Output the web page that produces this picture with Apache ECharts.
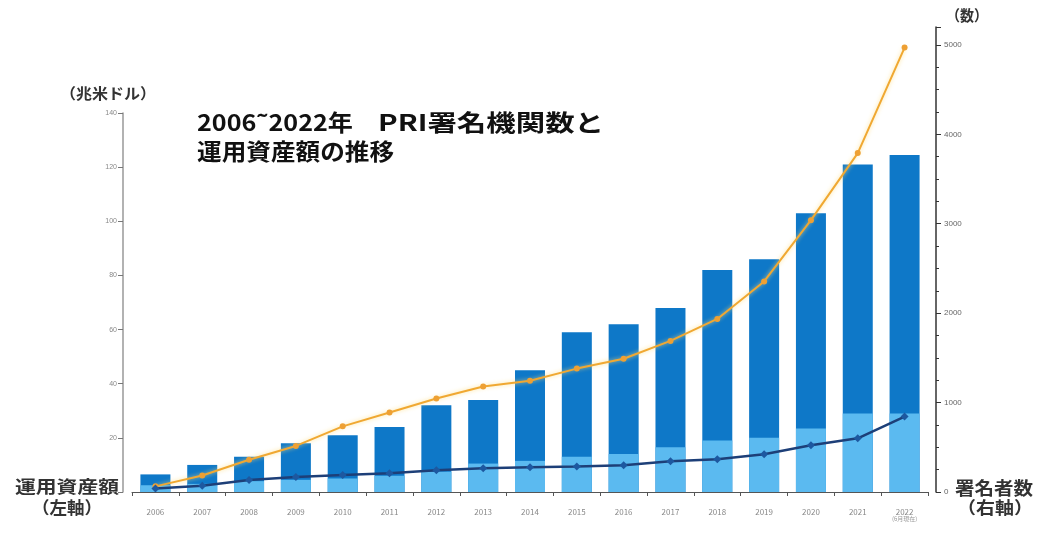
<!DOCTYPE html>
<html>
<head>
<meta charset="utf-8">
<script src="https://cdn.jsdelivr.net/npm/echarts@6/dist/echarts.min.js"></script>
<style>
html,body{margin:0;padding:0;background:#fff;}
#main{width:1041px;height:533px;}
</style>
</head>
<body>
<div id="main"></div>
<script>
const years = ['2006','2007','2008','2009','2010','2011','2012','2013','2014','2015','2016','2017','2018','2019','2020','2021','2022'];
const aumTotal = [6.5, 10, 13, 18, 21, 24, 32, 34, 45, 59, 62, 68, 82, 86, 103, 121, 124.5];
const aumAssetOwners = [2.5, 3, 4, 4.5, 5, 6, 7.5, 10.5, 11.5, 13, 14, 16.5, 19, 20, 23.5, 29, 29];
const signatoriesTotal = [63, 185, 360, 515, 734, 889, 1045, 1180, 1245, 1380, 1490, 1690, 1935, 2355, 3040, 3790, 4970];
const signatoriesAssetOwners = [40, 70, 133, 167, 190, 211, 244, 265, 278, 285, 300, 344, 367, 422, 522, 600, 844];
const leftTicks = [0, 20, 40, 60, 80, 100, 120, 140];
const rightTicks = [0, 1000, 2000, 3000, 4000, 5000];

const jp = '"Noto Sans CJK JP", "Noto Sans", sans-serif';
const measureCtx = document.createElement('canvas').getContext('2d');
function fitText(text, x, y, size, targetWidth, color) {
  const font = 'bold ' + size + 'px ' + jp;
  measureCtx.font = font;
  const w = measureCtx.measureText(text).width;
  return {type: 'text', x: x, y: y, scaleX: targetWidth / w, originX: 0, originY: 0, z: 10,
    style: {text: text, font: font, fill: color || '#333', verticalAlign: 'top', align: 'left'}};
}

const chart = echarts.init(document.getElementById('main'));
chart.setOption({
  backgroundColor: '#fff',
  animation: false,
  grid: [
    {left: 132, right: 113, top: 113, bottom: 41},
    {left: 132, right: 113, top: 27, bottom: 41}
  ],
  xAxis: [
    {type: 'category', gridIndex: 0, data: years,
     axisLine: {lineStyle: {color: '#555', width: 1}},
     axisTick: {show: true, length: 4, lineStyle: {color: '#555'}},
     axisLabel: {interval: 0, fontSize: 8, color: '#888', margin: 16, fontFamily: jp,
       formatter: function (v) { return v === '2022' ? v + '\n{s|(6月現在)}' : v; },
       rich: {s: {fontSize: 6, color: '#999'}}}},
    {type: 'category', gridIndex: 1, data: years, show: false}
  ],
  yAxis: [
    {type: 'value', gridIndex: 0, min: 0, max: 140, interval: 20, position: 'left', offset: 9,
     axisLine: {show: true, lineStyle: {color: '#999', width: 1.5}},
     axisTick: {show: true, length: 5, inside: false, lineStyle: {color: '#777'}},
     axisLabel: {fontSize: 7, color: '#888', margin: 6,
       formatter: function (v) { return leftTicks.indexOf(v) >= 0 ? String(v) : ''; }},
     splitLine: {show: false}},
    {type: 'value', gridIndex: 1, min: 0, max: 5200, interval: 1000, position: 'right', offset: 8,
     axisLine: {show: true, lineStyle: {color: '#333', width: 1.5}},
     axisTick: {show: true, length: 5, inside: false, lineStyle: {color: '#333'}},
     minorTick: {show: true, splitNumber: 4, length: 3, lineStyle: {color: '#333'}},
     axisLabel: {fontSize: 8, color: '#666', margin: 8, showMaxLabel: false,
       formatter: function (v) { return rightTicks.indexOf(v) >= 0 ? String(v) : ''; }},
     splitLine: {show: false}}
  ],
  series: [
    {type: 'bar', xAxisIndex: 0, yAxisIndex: 0, data: aumTotal, barWidth: 30,
     itemStyle: {color: '#0e78c8'}, z: 2},
    {type: 'bar', xAxisIndex: 0, yAxisIndex: 0, data: aumAssetOwners, barWidth: 30, barGap: '-100%',
     itemStyle: {color: '#5bbaf0'}, z: 3},
    {type: 'line', xAxisIndex: 1, yAxisIndex: 1, data: signatoriesTotal,
     symbol: 'circle', symbolSize: 6,
     lineStyle: {color: '#f0a832', width: 2, shadowColor: 'rgba(255,220,120,0.8)', shadowBlur: 4},
     itemStyle: {color: '#eea033'}, z: 6},
    {type: 'line', xAxisIndex: 1, yAxisIndex: 1, data: signatoriesAssetOwners,
     symbol: 'diamond', symbolSize: 8,
     lineStyle: {color: '#1d3f78', width: 2.5},
     itemStyle: {color: '#1d58a0'}, z: 7}
  ],
  graphic: [
    fitText('2006˜2022年', 197, 111, 23, 156, '#111'),
    fitText('PRI署名機関数と', 378, 111, 23, 226, '#111'),
    fitText('運用資産額の推移', 197, 140, 23, 197, '#111'),
    fitText('（兆米ドル）', 60, 86, 15, 96),
    fitText('（数）', 946, 8, 15, 42),
    fitText('運用資産額', 15, 478, 17, 104),
    fitText('（左軸）', 32, 499, 17, 70),
    fitText('署名者数', 955, 479, 18, 78),
    fitText('（右軸）', 957, 499, 17, 76)
  ]
});
</script>
</body>
</html>
